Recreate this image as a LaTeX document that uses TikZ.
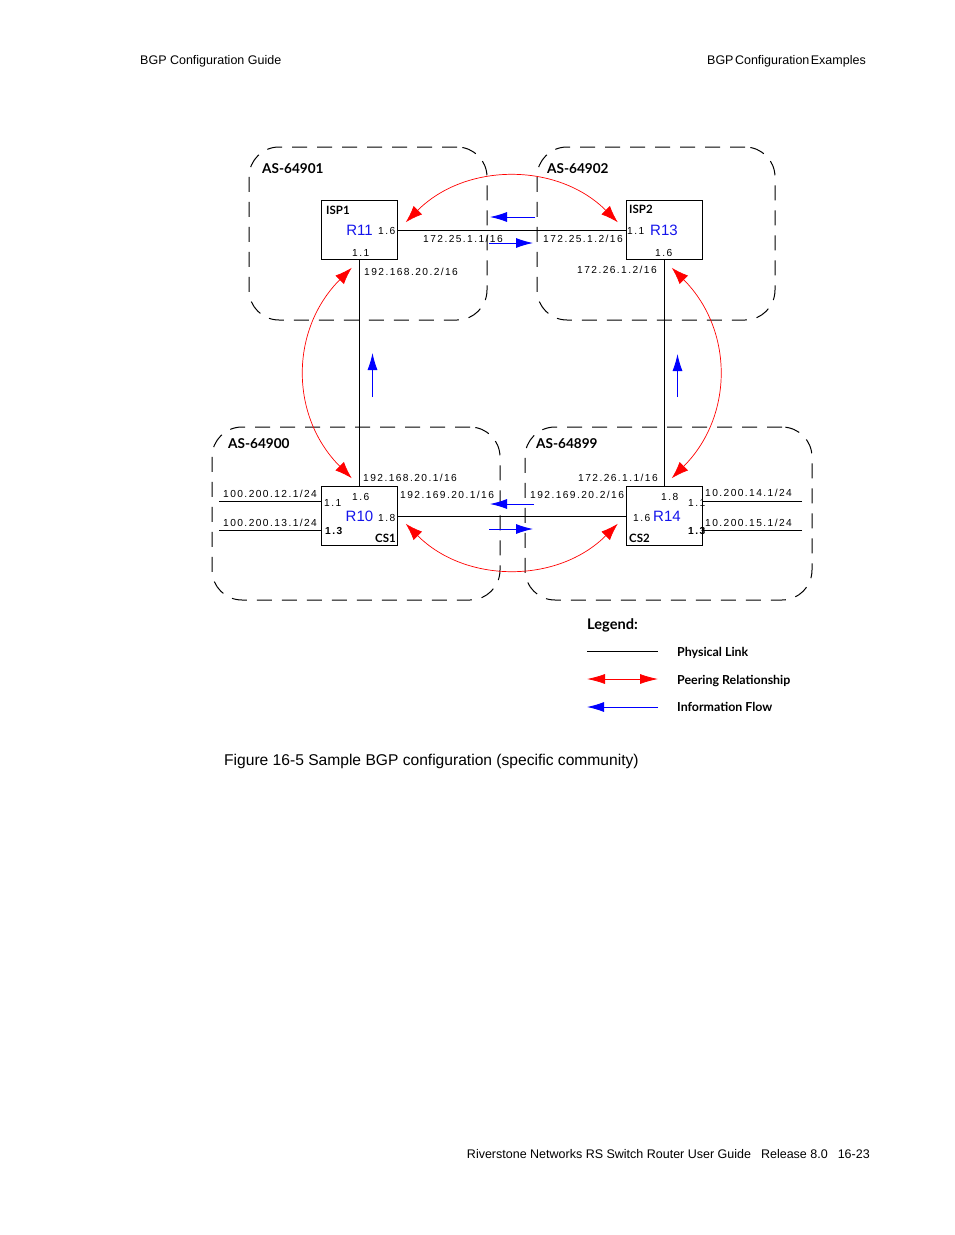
\documentclass[tikz,border=0pt]{standalone}
\usepackage{fontspec}
\setmainfont{Liberation Sans}
\newfontfamily\addrfont[LetterSpace=14]{Liberation Sans}
\newfontfamily\tagfont{Lato}
\usepackage{xcolor}
\usetikzlibrary{arrows.meta,positioning}
\definecolor{routerblue}{RGB}{20,20,235}

\begin{document}
\begin{tikzpicture}[
    x=1pt, y=-1pt,
    asbox/.style={rectangle, draw, dash pattern=on 15pt off 10pt, rounded corners=30pt, line width=1pt, inner sep=0pt},
    router/.style={rectangle, draw, line width=1pt, minimum width=76pt, minimum height=59pt, inner sep=0pt, font=\fontsize{15}{15}\selectfont, text=routerblue},
    link/.style={line width=1pt},
    peer/.style={{Latex[length=17pt,width=12pt]}-{Latex[length=17pt,width=12pt]}, red, line width=0.7pt, shorten >=11pt, shorten <=11pt, bend left=45, looseness=1.08},
    peerrev/.style={peer, bend right=45},
    peerside/.style={peer, looseness=1.12},
    peersiderev/.style={peerrev, looseness=1.12},
    flow/.style={-{Latex[length=17pt,width=10pt]}, blue, line width=0.9pt},
    addr/.style={anchor=base west, inner sep=0pt, font=\addrfont\fontsize{10.2}{10.2}\selectfont, text=black},
    tag/.style={anchor=base west, inner sep=0pt, font=\tagfont\bfseries\fontsize{12.4}{12.4}\selectfont},
    astag/.style={tag, font=\tagfont\bfseries\fontsize{13.6}{13.6}\selectfont},
    page/.style={anchor=base west, inner sep=0pt, font=\fontsize{12.5}{12.5}\selectfont}
]
    \useasboundingbox (0,0) rectangle (954,1235);

    % page text
    \node[page] (headl) at (140,64) {BGP Configuration Guide};
    \node[page, anchor=base east] (headr) at (866,64) {BGP\hspace{1.5pt}Configuration\hspace{1.5pt}Examples};
    \node[page, font=\fontsize{15.6}{15.6}\selectfont] (caption) at (224,765) {Figure 16-5 Sample BGP configuration (specific community)};
    \node[page, anchor=base east] (foot) at (870,1158) {Riverstone Networks RS Switch Router User Guide\hspace{10pt}Release 8.0\hspace{10pt}16-23};

    % autonomous systems
    \node[asbox, minimum width=238pt, minimum height=173pt] (as64901) at (368,233.5) {};
    \node[asbox, minimum width=238pt, minimum height=173pt] (as64902) at (656,233.5) {};
    \node[asbox, minimum width=288pt, minimum height=173pt] (as64900) at (356,513.5) {};
    \node[asbox, minimum width=287pt, minimum height=173pt] (as64899) at (668.5,513.5) {};
    \node[astag] (as1) at (262,173) {AS-64901};
    \node[astag] (as2) at (547,173) {AS-64902};
    \node[astag] (as3) at (228,448) {AS-64900};
    \node[astag] (as4) at (536,448) {AS-64899};

    % routers
    \node[router] (r11) at (359.5,230) {R11};
    \node[router] (r13) at (664,230) {R13};
    \node[router] (r10) at (359.5,516) {R10};
    \node[router] (r14) at (664,516) {\hspace{6pt}R14};
    \node[tag, font=\tagfont\bfseries\fontsize{11.5}{11.5}\selectfont] (isp1) at (326,214) {ISP1};
    \node[tag, font=\tagfont\bfseries\fontsize{11.5}{11.5}\selectfont] (isp2) at (629,213) {ISP2};
    \node[tag, anchor=base east, font=\tagfont\bfseries\fontsize{11.5}{11.5}\selectfont] (cs1) at (396,542) {CS1};
    \node[tag, font=\tagfont\bfseries\fontsize{11.5}{11.5}\selectfont] (cs2) at (629,542) {CS2};

    % physical links
    \coordinate (stub1) at (219,501);
    \coordinate (stub2) at (219,530);
    \coordinate (stub3) at (802,501);
    \coordinate (stub4) at (802,530);
    \draw[link] (r11) -- (r13);
    \draw[link] (r11) -- (r10);
    \draw[link] (r13) -- (r14);
    \draw[link] (r10) -- (r14);
    \draw[link] (stub1) -- (stub1 -| r10.west);
    \draw[link] (stub2) -- (stub2 -| r10.west);
    \draw[link] (stub3) -- (stub3 -| r14.east);
    \draw[link] (stub4) -- (stub4 -| r14.east);

    % peering
    \draw[peer] (r11.east) to (r13.west);
    \draw[peersiderev] (r11.south) to (r10.north);
    \draw[peerside] (r13.south) to (r14.north);
    \draw[peerrev] (r10.east) to (r14.west);

    % information flow
    \coordinate (fa1) at (535,217);
    \coordinate (fa2) at (490,217);
    \coordinate (fb1) at (489,243);
    \coordinate (fb2) at (533,243);
    \coordinate (fc1) at (372.5,397);
    \coordinate (fc2) at (372.5,353);
    \coordinate (fd1) at (677.5,397);
    \coordinate (fd2) at (677.5,354);
    \coordinate (fe1) at (534,504);
    \coordinate (fe2) at (490,504);
    \coordinate (ff1) at (489,529);
    \coordinate (ff2) at (533,529);
    \draw[flow] (fa1) -- (fa2);
    \draw[flow] (fb1) -- (fb2);
    \draw[flow] (fc1) -- (fc2);
    \draw[flow] (fd1) -- (fd2);
    \draw[flow] (fe1) -- (fe2);
    \draw[flow] (ff1) -- (ff2);

    % addresses
    \node[addr] (a1) at (423,242) {172.25.1.1/16};
    \node[addr] (a2) at (543,242) {172.25.1.2/16};
    \node[addr] (a3) at (364,275) {192.168.20.2/16};
    \node[addr] (a4) at (577,273) {172.26.1.2/16};
    \node[addr] (a5) at (363,481) {192.168.20.1/16};
    \node[addr] (a6) at (578,481) {172.26.1.1/16};
    \node[addr] (a7) at (400,498) {192.169.20.1/16};
    \node[addr] (a8) at (530,498) {192.169.20.2/16};
    \node[addr] (a9) at (223,497) {100.200.12.1/24};
    \node[addr] (a10) at (223,526) {100.200.13.1/24};
    \node[addr] (a11) at (705,496) {10.200.14.1/24};
    \node[addr] (a12) at (705,526) {10.200.15.1/24};

    % interfaces
    \node[addr] (p1) at (378,234) {1.6};
    \node[addr] (p2) at (352,256) {1.1};
    \node[addr] (p3) at (627,234) {1.1};
    \node[addr] (p4) at (655,256) {1.6};
    \node[addr] (p5) at (324,506) {1.1};
    \node[addr] (p6) at (352,500) {1.6};
    \node[addr] (p7) at (378,521) {1.8};
    \node[addr, font=\addrfont\bfseries\fontsize{10.2}{10.2}\selectfont] (p8) at (325,534) {1.3};
    \node[addr] (p9) at (661,500) {1.8};
    \node[addr] (p10) at (688,506) {1.1};
    \node[addr] (p11) at (633,521) {1.6};
    \node[addr, font=\addrfont\bfseries\fontsize{10.2}{10.2}\selectfont] (p12) at (688,534) {1.3};

    % legend
    \node[astag, font=\tagfont\bfseries\fontsize{14.6}{14.6}\selectfont] (legend) at (587,629) {Legend:};
    \coordinate (lega1) at (587,651.5);
    \coordinate (lega2) at (658,651.5);
    \coordinate (legb1) at (587,679);
    \coordinate (legb2) at (658,679);
    \coordinate (legc1) at (658,707);
    \coordinate (legc2) at (587,707);
    \draw[link] (lega1) -- (lega2);
    \draw[{Latex[length=18pt,width=10pt]}-{Latex[length=18pt,width=10pt]}, red, line width=0.8pt] (legb1) -- (legb2);
    \draw[flow] (legc1) -- (legc2);
    \node[tag] (leg1) at (677,656) {Physical Link};
    \node[tag] (leg2) at (677,684) {Peering Relationship};
    \node[tag] (leg3) at (677,711) {Information Flow};
\end{tikzpicture}
\end{document}
